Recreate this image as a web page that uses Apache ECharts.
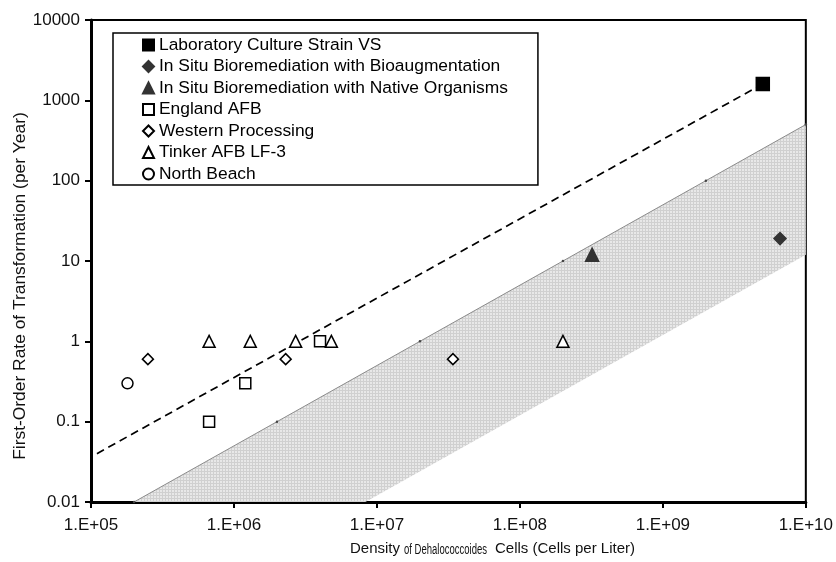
<!DOCTYPE html>
<html>
<head>
<meta charset="utf-8">
<script src="https://cdn.jsdelivr.net/npm/echarts@6/dist/echarts.min.js"></script>
<style>html,body{margin:0;padding:0;background:#fff}#c{width:836px;height:562px}</style>
</head>
<body>
<div id="c"></div>
<script>
// ---- data ----
const seriesNames = [
  'Laboratory Culture Strain VS',
  'In Situ Bioremediation with Bioaugmentation',
  'In Situ Bioremediation with Native Organisms',
  'England AFB',
  'Western Processing',
  'Tinker AFB LF-3',
  'North Beach'
];
const labCulture = [[5e9, 1600]];
const bioaugmentation = [[6.6e9, 19]];
const nativeOrganisms = [[3.2e8, 12]];
const englandAFB = [[6.7e5, 0.1], [1.2e6, 0.3], [4.0e6, 1]];
const westernProcessing = [[2.5e5, 0.6], [2.3e6, 0.6], [3.4e7, 0.6]];
const tinkerAFB = [[6.7e5, 1], [1.3e6, 1], [2.7e6, 1], [4.8e6, 1], [2.0e8, 1]];
const northBeach = [[1.8e5, 0.3]];
const dashedFit = [[1.1e5, 0.04], [5e9, 1600]];
const bandUpper = [[2e5, 0.01], [2e6, 0.1], [2e7, 1], [2e8, 10], [2e9, 100], [1e10, 500]];
const bandLower = [[1e10, 12], [8.3e6, 0.01]];
const xTickExponents = [5, 6, 7, 8, 9, 10];
const yTickLabels = ['0.01', '0.1', '1', '10', '100', '1000', '10000'];

// ---- chart ----
const FONT = '"Liberation Sans", Arial, sans-serif';
const chart = echarts.init(document.getElementById('c'), null, {renderer: 'canvas'});

const pc = document.createElement('canvas');
pc.width = 3; pc.height = 3;
const pctx = pc.getContext('2d');
pctx.fillStyle = '#e8e8e8'; pctx.fillRect(0, 0, 3, 3);
pctx.fillStyle = '#d0d0d0'; pctx.fillRect(0, 0, 1, 3); pctx.fillRect(0, 0, 3, 1);

const bandPolygon = bandUpper.concat(bandLower);

function scatter(name, data, symbol, size, fill, stroke) {
  return {
    name: name, type: 'scatter', data: data, symbol: symbol, symbolSize: size, z: 5,
    itemStyle: {color: fill, borderColor: stroke, borderWidth: 1.5, opacity: 1}
  };
}

const option = {
  animation: false,
  backgroundColor: '#fff',
  grid: {left: 91, right: 29, top: 20, bottom: 60, show: true, borderColor: '#000', borderWidth: 2, backgroundColor: 'transparent'},
  xAxis: {
    type: 'log', logBase: 10, min: 1e5, max: 1e10, splitNumber: 5,
    axisLine: {lineStyle: {color: '#000', width: 3}},
    axisTick: {show: true, length: 6, lineStyle: {color: '#000', width: 2}},
    minorTick: {show: false}, splitLine: {show: false},
    axisLabel: {
      fontFamily: FONT, fontSize: 17, color: '#111', margin: 15, showMinLabel: true, showMaxLabel: true,
      formatter: function (v) {
        const e = Math.round(Math.log10(v));
        const idx = xTickExponents.indexOf(e);
        const ee = idx >= 0 ? xTickExponents[idx] : e;
        return '1.E+' + (ee < 10 ? '0' + ee : ee);
      }
    }
  },
  yAxis: {
    type: 'log', logBase: 10, min: 0.01, max: 10000, splitNumber: 6,
    axisLine: {lineStyle: {color: '#000', width: 3}},
    axisTick: {show: true, length: 6, lineStyle: {color: '#000', width: 2}},
    minorTick: {show: false}, splitLine: {show: false},
    axisLabel: {
      fontFamily: FONT, fontSize: 17, color: '#111', margin: 11, showMinLabel: true, showMaxLabel: true,
      formatter: function (v) {
        const e = Math.round(Math.log10(v));
        return yTickLabels[e + 2] !== undefined ? yTickLabels[e + 2] : String(v);
      }
    }
  },
  legend: {
    data: seriesNames,
    orient: 'vertical', left: 113, top: 33,
    padding: [3, 30, 2, 29],
    borderColor: '#000', borderWidth: 1.5, backgroundColor: '#fff',
    itemWidth: 11, itemHeight: 11, itemGap: 3.5,
    textStyle: {fontFamily: FONT, fontSize: 17.4, color: '#000', lineHeight: 18}
  },
  graphic: [
    {
      type: 'text', x: 350, y: 549, silent: true,
      style: {text: 'Density', fontFamily: FONT, fontSize: 15, fill: '#111', verticalAlign: 'middle'}
    },
    {
      type: 'text', x: 404, y: 550, scaleX: 0.68, silent: true,
      style: {text: 'of Dehalococcoides', fontFamily: FONT, fontSize: 14, fill: '#111', verticalAlign: 'middle'}
    },
    {
      type: 'text', x: 495, y: 549, silent: true,
      style: {text: 'Cells (Cells per Liter)', fontFamily: FONT, fontSize: 15, fill: '#111', verticalAlign: 'middle'}
    },
    {
      type: 'text', x: 20, y: 286, rotation: Math.PI / 2, silent: true,
      style: {text: 'First-Order Rate of Transformation (per Year)', fontFamily: FONT, fontSize: 17.4, fill: '#111', align: 'center', verticalAlign: 'middle'}
    }
  ],
  series: [
    {
      name: 'band', type: 'custom', data: bandPolygon, z: 1, silent: true,
      renderItem: function (params, api) {
        if (params.dataIndex !== 0) return null;
        const pts = bandPolygon.map(function (p) { return api.coord(p); });
        return {type: 'polygon', shape: {points: pts}, style: {fill: {image: pc, repeat: 'repeat'}, stroke: null}};
      }
    },
    {
      name: 'upperEdge', type: 'line', data: bandUpper, z: 2, silent: true,
      symbol: 'circle', symbolSize: 2.5, showSymbol: true,
      lineStyle: {color: '#8a8a8a', width: 1}, itemStyle: {color: '#444'}
    },
    {
      name: 'fit', type: 'line', data: dashedFit, z: 3, silent: true, symbol: 'none',
      lineStyle: {color: '#000', width: 1.7, type: [8, 5]}
    },
    scatter(seriesNames[0], labCulture, 'rect', 13, '#000', '#000'),
    scatter(seriesNames[1], bioaugmentation, 'diamond', 12, '#333', '#333'),
    scatter(seriesNames[2], nativeOrganisms, 'triangle', 13, '#333', '#333'),
    scatter(seriesNames[3], englandAFB, 'rect', 11, '#fff', '#000'),
    scatter(seriesNames[4], westernProcessing, 'diamond', 11, '#fff', '#000'),
    scatter(seriesNames[5], tinkerAFB, 'triangle', 12, '#fff', '#000'),
    scatter(seriesNames[6], northBeach, 'circle', 11, '#fff', '#000')
  ]
};
chart.setOption(option);
</script>
</body>
</html>
